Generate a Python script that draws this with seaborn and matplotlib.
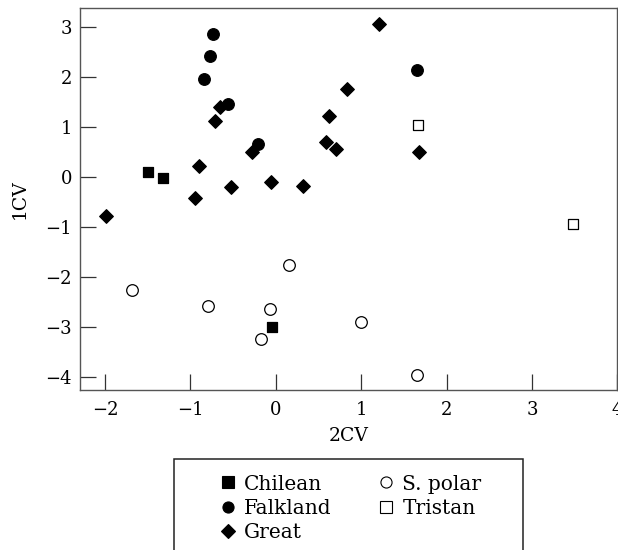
import matplotlib
matplotlib.use("Agg")
import matplotlib.pyplot as plt
from matplotlib.patches import Rectangle
from matplotlib.lines import Line2D
import seaborn as sns
import pandas as pd

# ---- data ----
chilean_x = [-1.50, -1.32, -0.04]
chilean_y = [0.11, -0.01, -3.01]

falkland_x = [-0.73, -0.77, -0.84, -0.56, -0.21, 1.65]
falkland_y = [2.86, 2.42, 1.97, 1.46, 0.66, 2.15]

great_x = [-1.99, -0.95, -0.90, -0.71, -0.65, -0.52, -0.28, -0.06, 0.32,
           0.59, 0.62, 0.70, 0.83, 1.21, 1.68]
great_y = [-0.79, -0.41, 0.22, 1.13, 1.40, -0.19, 0.51, -0.09, -0.17,
           0.71, 1.23, 0.57, 1.76, 3.06, 0.51]

spolar_x = [-1.68, -0.79, -0.07, -0.17, 0.16, 1.00, 1.65]
spolar_y = [-2.27, -2.59, -2.64, -3.24, -1.77, -2.91, -3.96]

tristan_x = [1.67, 3.48]
tristan_y = [1.05, -0.94]

groups = ["Chilean", "Falkland", "Great", "S. polar", "Tristan"]
xticks = [-2, -1, 0, 1, 2, 3, 4]
yticks = [-4, -3, -2, -1, 0, 1, 2, 3]

df = pd.DataFrame({
    "x": chilean_x + falkland_x + great_x + spolar_x + tristan_x,
    "y": chilean_y + falkland_y + great_y + spolar_y + tristan_y,
    "group": (["Chilean"] * len(chilean_x) + ["Falkland"] * len(falkland_x)
              + ["Great"] * len(great_x) + ["S. polar"] * len(spolar_x)
              + ["Tristan"] * len(tristan_x)),
})

sns.set_theme(style="white")
plt.rcParams["font.family"] = ["DejaVu Serif"]
plt.rcParams["text.color"] = "black"
plt.rcParams["axes.labelcolor"] = "black"

W, H = 618, 550
fig = plt.figure(figsize=(W / 100, H / 100), dpi=100)
ax = fig.add_axes([80.3 / W, 1 - 389.7 / H, (617.3 - 80.3) / W, (389.7 - 8.3) / H])

styles = {
    "Chilean": dict(marker="s", fc="black", s=55),
    "Falkland": dict(marker="o", fc="black", s=70),
    "Great": dict(marker="D", fc="black", s=48),
    "S. polar": dict(marker="o", fc="white", s=70),
    "Tristan": dict(marker="s", fc="white", s=55),
}
for g in groups:
    st = styles[g]
    sns.scatterplot(data=df[df["group"] == g], x="x", y="y", ax=ax,
                    marker=st["marker"], color=st["fc"], edgecolor="black",
                    linewidth=0.9, s=st["s"], label=g, legend=False)

ax.set_xlim(-2.29, 4.0)
ax.set_ylim(-4.26, 3.38)
ax.set_xticks(xticks)
ax.set_yticks(yticks)
ax.set_xticklabels([str(t).replace("-", "\u2212") for t in xticks])
ax.set_yticklabels([str(t).replace("-", "\u2212") for t in yticks])
ax.tick_params(bottom=True, left=True, top=False, right=False,
               direction="in", length=11.5, width=0.9, color="#333333",
               labelsize=13, labelcolor="black", pad=6)
ax.tick_params(axis="x", pad=8)
for sp in ax.spines.values():
    sp.set_color("#555555")
    sp.set_linewidth(1.0)
    sp.set_visible(True)

ax.set_xlabel("2CV", fontsize=13.5, labelpad=6)
ax.set_ylabel("1CV", fontsize=13.5, labelpad=12)

# legend
handles = []
for g in groups:
    st = styles[g]
    handles.append(Line2D([], [], linestyle="none", marker=st["marker"],
                          markerfacecolor=st["fc"], markeredgecolor="black",
                          markeredgewidth=0.8,
                          markersize=8 if st["marker"] != "D" else 7))
leg = fig.legend(handles, groups, ncol=2, frameon=False,
                 loc="upper left", bbox_to_anchor=(220 / W, 1 - 474.5 / H),
                 fontsize=14.5, handlelength=0.8, handletextpad=0.4,
                 columnspacing=2.3, labelspacing=0.27, borderpad=0,
                 borderaxespad=0)
rect = Rectangle((174 / W, 1 - 600 / H), (522.7 - 174) / W, (600 - 459.3) / H,
                 transform=fig.transFigure, fill=False, edgecolor="#222222",
                 linewidth=1.1)
fig.patches.append(rect)

fig.savefig("out.png", dpi=100)
